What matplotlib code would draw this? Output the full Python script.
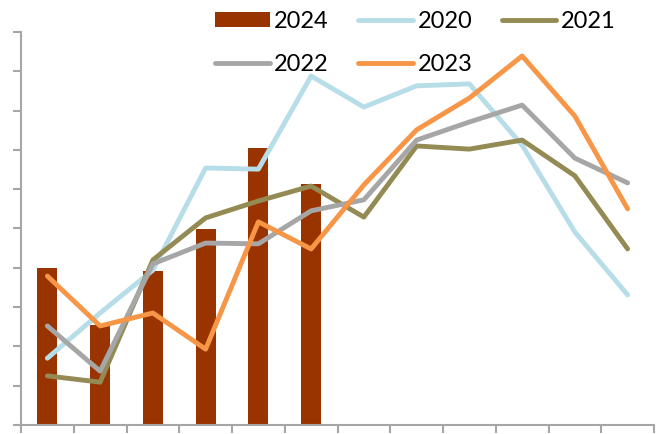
import numpy as np
import matplotlib
matplotlib.use('Agg')
import matplotlib.pyplot as plt

plt.rcParams['font.family'] = ['Lato', 'DejaVu Sans']

months = list(range(1, 13))
y2024 = [4.0, 2.54, 3.92, 4.99, 7.05, 6.13]
y2020 = [1.70, 2.85, 3.94, 6.54, 6.51, 8.88, 8.09, 8.63, 8.68, 7.12, 4.91, 3.31]
y2021 = [1.25, 1.09, 4.20, 5.27, 5.70, 6.08, 5.29, 7.10, 7.02, 7.25, 6.34, 4.48]
y2022 = [2.52, 1.37, 4.10, 4.63, 4.61, 5.45, 5.73, 7.25, 7.71, 8.14, 6.79, 6.16]
y2023 = [3.79, 2.52, 2.85, 1.93, 5.17, 4.48, 6.11, 7.51, 8.32, 9.39, 7.86, 5.50]

fig = plt.figure(figsize=(6.66, 4.34), dpi=100)
ax = fig.add_axes([21/666, 9/434, 633/666, 393/434])

x = np.arange(len(months))
lw = 3.5
b = ax.bar(x[:len(y2024)], y2024, width=0.38, color='#993300', label='2024', zorder=1)
l20, = ax.plot(x, y2020, color='#b7dde8', lw=lw, label='2020', solid_capstyle='round')
l21, = ax.plot(x, y2021, color='#948a54', lw=lw, label='2021', solid_capstyle='round')
l22, = ax.plot(x, y2022, color='#a6a6a6', lw=lw, label='2022', solid_capstyle='round')
l23, = ax.plot(x, y2023, color='#f79646', lw=lw, label='2023', solid_capstyle='round')

ax.set_xlim(-0.5, 11.5)
ax.set_ylim(0, 10)
ax.set_yticks(range(0, 11))
ax.set_xticks(np.arange(-0.5, 12, 1))
ax.set_yticklabels([])
ax.set_xticklabels([])
for s in ['top', 'right']:
    ax.spines[s].set_visible(False)
for s in ['left', 'bottom']:
    ax.spines[s].set_color('#a6a6a6')
    ax.spines[s].set_linewidth(1.5)
ax.tick_params(axis='both', colors='#a6a6a6', length=6, width=1.5)

fig.legend([b, l22, l20, l23, l21], ['2024', '2022', '2020', '2023', '2021'],
           ncol=3, loc='upper left', bbox_to_anchor=(194/666, 1.024),
           frameon=False, prop={'size': 17},
           handlelength=2.3, handleheight=0.55, columnspacing=1.25,
           handletextpad=0.2, labelspacing=0.93)

fig.savefig('out.png', dpi=100)
